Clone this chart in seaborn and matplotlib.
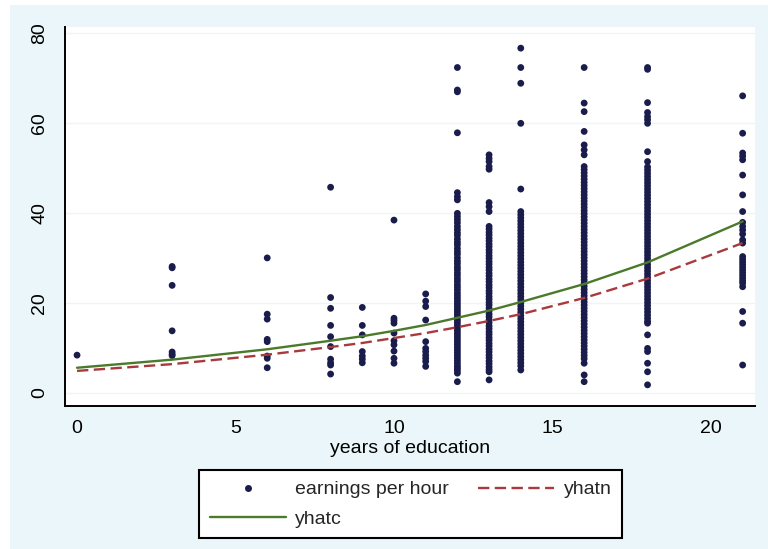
import numpy as np
import pandas as pd
import matplotlib
matplotlib.use("Agg")
import matplotlib.pyplot as plt
import seaborn as sns
from matplotlib.patches import Rectangle
from matplotlib.lines import Line2D

# ---------------- data ----------------
wage_e0 = [8.4]
wage_e3 = [28.1, 27.8, 23.9, 13.8, 9.1, 8.6, 8.3]
wage_e6 = [30.0, 17.5, 16.4, 11.9, 11.4, 8.2, 7.7, 5.6]
wage_e8 = [45.7, 21.2, 18.8, 15.0, 12.5, 10.3, 7.5, 6.7, 6.2, 4.2]
wage_e9 = [19.0, 15.0, 12.9, 9.2, 8.2, 7.5, 6.7]
wage_e10 = [38.4, 16.6, 16.1, 15.5, 13.3, 11.6, 10.7, 9.3, 7.7, 6.6]
wage_e11 = [22.0, 20.4, 19.2, 16.2, 11.4, 9.9, 9.2, 8.4, 7.7, 7.0, 5.9]
wage_e12 = [72.3, 67.3, 66.9, 57.8, 44.5, 43.6, 42.9, 39.9, 39.2, 38.5, 37.8,
            37.0, 36.3, 35.6, 35.0, 34.2, 33.5, 32.9, 32.1, 31.4, 30.8, 30.0,
            29.3, 28.7, 28.0, 27.4, 26.7, 26.1, 25.4, 24.8, 24.1, 23.5, 22.9,
            22.2, 21.6, 21.0, 20.4, 19.8, 19.2, 18.6, 18.0, 17.4, 16.8, 16.2,
            15.6, 15.0, 14.4, 13.8, 13.2, 12.6, 12.0, 11.4, 10.8, 10.2, 9.6,
            9.0, 8.4, 7.8, 7.2, 6.6, 6.0, 5.5, 5.0, 4.4, 2.5]
wage_e13 = [52.9, 52.1, 51.4, 50.3, 49.7, 42.3, 41.4, 40.3, 37.0, 36.4, 35.7,
            35.1, 34.4, 33.8, 33.1, 32.5, 31.8, 31.2, 30.5, 29.9, 29.2, 28.6,
            27.9, 27.3, 26.6, 26.0, 25.3, 24.7, 24.0, 23.4, 22.7, 22.1, 21.4,
            20.8, 20.1, 19.5, 18.8, 18.2, 17.5, 16.9, 16.2, 15.6, 14.9, 14.3,
            13.6, 13.0, 12.3, 11.7, 11.0, 10.4, 9.7, 9.1, 8.4, 7.8, 7.1, 6.5,
            5.8, 5.2, 4.7, 2.9]
wage_e14 = [76.6, 72.3, 68.8, 59.9, 45.3, 40.3, 39.6, 38.9, 38.2, 37.5, 36.8,
            36.1, 35.4, 34.7, 34.0, 33.3, 32.6, 31.9, 31.2, 30.5, 29.8, 29.1,
            28.4, 27.7, 27.0, 26.3, 25.6, 24.9, 24.2, 23.5, 22.8, 22.1, 21.4,
            20.7, 20.0, 19.3, 18.6, 17.9, 17.2, 16.5, 15.8, 15.1, 14.4, 13.7,
            13.0, 12.3, 11.6, 10.9, 10.2, 9.5, 8.8, 8.1, 7.4, 6.7, 6.0, 5.1]
wage_e16 = [72.3, 64.4, 62.5, 58.1, 55.1, 54.0, 52.9, 50.3, 49.6, 48.9, 48.2,
            47.5, 46.8, 46.1, 45.4, 44.7, 44.0, 43.3, 42.6, 41.9, 41.2, 40.5,
            39.8, 39.1, 38.4, 37.7, 37.0, 36.3, 35.6, 34.9, 34.2, 33.5, 32.8,
            32.1, 31.4, 30.7, 30.0, 29.3, 28.6, 27.9, 27.2, 26.5, 25.8, 25.1,
            24.4, 23.7, 23.0, 22.3, 21.6, 20.9, 20.2, 19.5, 18.8, 18.1, 17.4,
            16.7, 16.0, 15.3, 14.6, 13.9, 13.2, 12.5, 11.8, 11.1, 10.4, 9.7,
            9.0, 8.3, 7.6, 6.6, 4.0, 2.5]
wage_e18 = [72.3, 71.9, 64.5, 62.3, 61.4, 60.7, 59.9, 53.6, 51.4, 50.2, 49.5,
            48.8, 48.1, 47.4, 46.7, 46.0, 45.3, 44.6, 43.9, 43.2, 42.5, 41.8,
            41.1, 40.4, 39.7, 39.0, 38.3, 37.6, 36.9, 36.2, 35.5, 34.8, 34.1,
            33.4, 32.7, 32.0, 31.3, 30.6, 29.9, 29.2, 28.5, 27.8, 27.1, 26.4,
            25.7, 25.0, 24.3, 23.6, 22.9, 22.2, 21.5, 20.8, 20.1, 19.4, 18.7,
            18.0, 17.3, 16.6, 15.9, 15.5, 12.9, 9.9, 9.2, 6.6, 4.7, 1.8]
wage_e21 = [66.0, 57.7, 53.3, 52.6, 51.8, 48.4, 44.0, 40.3, 37.9, 37.0, 36.2,
            35.3, 34.0, 33.3, 30.3, 29.7, 29.1, 28.5, 27.9, 27.3, 26.7, 26.1,
            25.5, 24.9, 24.4, 23.6, 18.1, 15.5, 6.2]

educ_levels = [0, 3, 6, 8, 9, 10, 11, 12, 13, 14, 16, 18, 21]
wage_groups = [wage_e0, wage_e3, wage_e6, wage_e8, wage_e9, wage_e10, wage_e11,
               wage_e12, wage_e13, wage_e14, wage_e16, wage_e18, wage_e21]
yhatc = [5.6, 7.4, 9.7, 11.6, 12.6, 13.8, 15.1, 16.7, 18.3, 20.2, 24.2, 29.0, 38.1]
yhatn = [4.9, 6.4, 8.5, 10.2, 11.1, 12.2, 13.3, 14.6, 16.0, 17.5, 21.1, 25.4, 33.3]

x_ticks = [0, 5, 10, 15, 20]
y_ticks = [0, 20, 40, 60, 80]

labels = ["earnings per hour", "yhatc", "yhatn"]
x_title = "years of education"

# ---------------- tables ----------------
scatter_df = pd.DataFrame({
    "educ": np.concatenate([[e] * len(w) for e, w in zip(educ_levels, wage_groups)]),
    "wage": np.concatenate(wage_groups),
})
fit_df = pd.DataFrame({"educ": educ_levels, "yhatc": yhatc, "yhatn": yhatn})

# ---------------- style ----------------
sns.set_theme(style="white")
plt.rcParams["font.family"] = ["Liberation Sans", "DejaVu Sans"]

navy = "#1a1d4c"
green = "#4a7a2a"
red = "#a83a3e"
bg = "#eaf6f9"

W, H = 768, 549
fig = plt.figure(figsize=(W / 100, H / 100), dpi=100, facecolor="white")
fig.patches.append(Rectangle((10 / W, 0), 1, (H - 5) / H, transform=fig.transFigure,
                             facecolor=bg, edgecolor="none", zorder=-10))

ax = fig.add_axes([65 / W, (H - 406) / H, 690 / W, 379 / H])
ax.set_zorder(1)
ax.set_facecolor("white")

sns.scatterplot(data=scatter_df, x="educ", y="wage", ax=ax, color=navy, s=24,
                edgecolor="none", linewidth=0, legend=False, zorder=3)
sns.lineplot(data=fit_df, x="educ", y="yhatn", ax=ax, color=red, linewidth=1.7,
             legend=False, zorder=4)
ax.lines[-1].set_dashes([4.8, 2.3])
sns.lineplot(data=fit_df, x="educ", y="yhatc", ax=ax, color=green, linewidth=1.7,
             legend=False, zorder=5)

ax.set_xlim(-0.38, 21.39)
ax.set_ylim(-2.9, 81.3)
ax.set_xticks(x_ticks)
ax.set_yticks(y_ticks)
ax.set_yticklabels([str(v) for v in y_ticks], rotation=90, va="center", ha="right")
ax.tick_params(axis="both", direction="out", length=7, width=1.2, color="black",
               labelsize=14, labelcolor="black")
ax.tick_params(axis="y", pad=5)
ax.tick_params(axis="x", pad=3)
ax.set_xlabel(x_title, fontsize=14, color="black", labelpad=2)
ax.set_ylabel("")

ax.grid(axis="y", color="#eef5f7", linewidth=1.0)
ax.grid(axis="x", visible=False)
for side in ["top", "right"]:
    ax.spines[side].set_visible(False)
for side in ["left", "bottom"]:
    ax.spines[side].set_color("black")
    ax.spines[side].set_linewidth(1.4)

h_sc = Line2D([], [], marker="o", linestyle="none", color=navy, markersize=4)
h_c = Line2D([], [], color=green, linewidth=1.7)
h_n = Line2D([], [], color=red, linewidth=1.7, dashes=[4.8, 2.3])
leg = fig.legend([h_sc, h_c, h_n], labels, ncol=2, loc="upper left",
                 bbox_to_anchor=(199 / W, 1 - 470 / H), frameon=True, fancybox=False,
                 edgecolor="black", facecolor="white", framealpha=1, fontsize=14,
                 handlelength=3.9, handletextpad=0.5, columnspacing=1.5,
                 borderpad=0.55, labelspacing=0.6, borderaxespad=0)
leg.get_frame().set_linewidth(1.5)
leg.set_zorder(5)

fig.savefig("out.png", dpi=100, facecolor="white")
